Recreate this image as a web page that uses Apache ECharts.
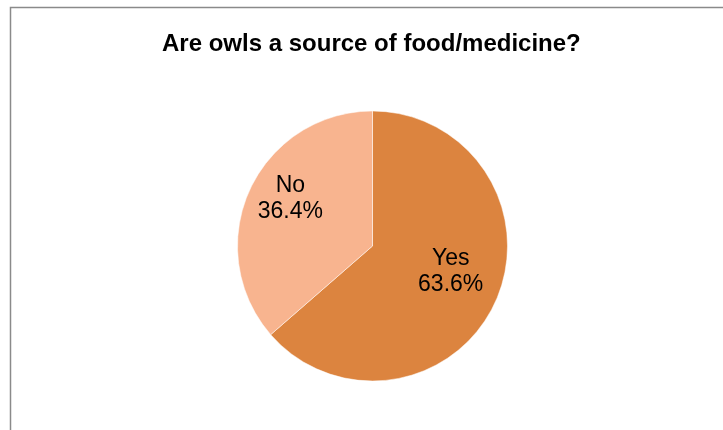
<!DOCTYPE html>
<html>
<head>
<meta charset="utf-8">
<script src="https://cdn.jsdelivr.net/npm/echarts@6/dist/echarts.min.js"></script>
<style>
html,body{margin:0;padding:0;background:#fff;}
#chart{width:723px;height:430px;}
</style>
</head>
<body>
<div id="chart"></div>
<script>
const titleText = 'Are owls a source of food/medicine?';
const categories = ['Yes', 'No'];
const values = [63.6, 36.4];
const colors = ['#DC843F', '#F8B48F'];
const labelOffsets = [[14, -4], [-18, -18]];

const chart = echarts.init(document.getElementById('chart'), null, {renderer: 'canvas'});
chart.setOption({
  animation: false,
  backgroundColor: '#fff',
  title: {
    text: titleText,
    left: 157,
    top: 27,
    textStyle: {fontFamily: 'Liberation Sans, Arial, sans-serif', fontWeight: 'bold', fontSize: 24, color: '#000'}
  },
  graphic: [{
    type: 'rect',
    shape: {x: 10.5, y: 7.5, width: 800, height: 500},
    style: {fill: null, stroke: '#8a8a8a', lineWidth: 1.5},
    silent: true, z: -1
  }],
  series: [{
    type: 'pie',
    center: [372.5, 246],
    radius: [0, 135],
    startAngle: 90,
    clockwise: true,
    data: categories.map((c, i) => ({
      name: c,
      value: values[i],
      itemStyle: {color: colors[i]},
      label: {offset: labelOffsets[i]}
    })),
    itemStyle: {borderColor: '#fff', borderWidth: 0.5},
    label: {
      show: true,
      position: 'inside',
      formatter: p => p.name + '\n' + p.value.toFixed(1) + '%',
      fontFamily: 'Liberation Sans, Arial, sans-serif',
      fontSize: 23,
      lineHeight: 26,
      color: '#000',
      align: 'center'
    },
    labelLine: {show: false},
    emphasis: {disabled: true}
  }]
});
</script>
</body>
</html>
